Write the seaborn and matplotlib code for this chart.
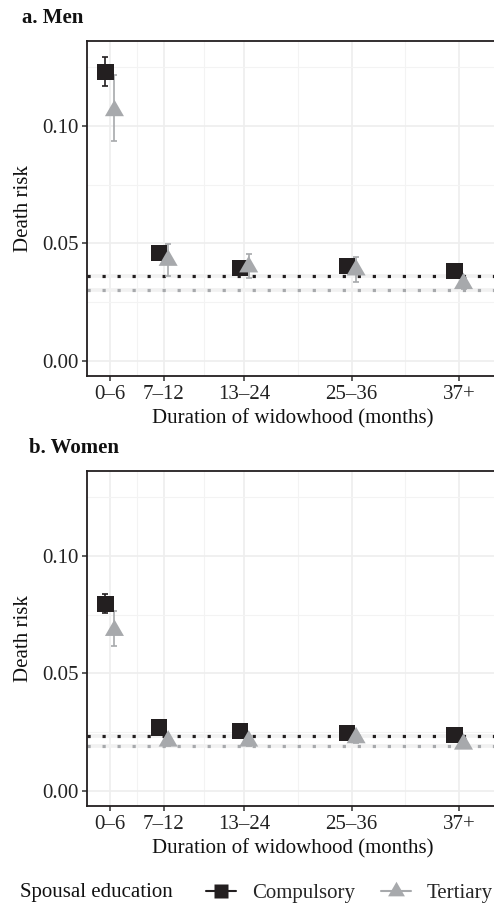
import matplotlib
matplotlib.use("Agg")
import matplotlib.pyplot as plt
import seaborn as sns
import pandas as pd
from matplotlib.lines import Line2D

# ---- data ----
durations = ["0–6", "7–12", "13–24", "25–36", "37+"]
duration_x = [0, 6, 15, 27, 39]          # continuous scale position of each duration band
groups = ["Compulsory", "Tertiary"]

men_comp = [0.1228, 0.0460, 0.0397, 0.0405, 0.0384]
men_comp_lo = [0.1170, 0.0446, 0.0384, 0.0392, 0.0371]
men_comp_hi = [0.1292, 0.0474, 0.0410, 0.0418, 0.0397]
men_tert = [0.1065, 0.0428, 0.0400, 0.0387, 0.0329]
men_tert_lo = [0.0935, 0.0363, 0.0354, 0.0334, 0.0306]
men_tert_hi = [0.1216, 0.0496, 0.0454, 0.0444, 0.0354]
men_ref = [0.0362, 0.0302]

women_comp = [0.0795, 0.0270, 0.0256, 0.0246, 0.0237]
women_comp_lo = [0.0757, 0.0258, 0.0245, 0.0235, 0.0226]
women_comp_hi = [0.0837, 0.0282, 0.0268, 0.0257, 0.0248]
women_tert = [0.0683, 0.0212, 0.0212, 0.0226, 0.0199]
women_tert_lo = [0.0616, 0.0192, 0.0192, 0.0206, 0.0181]
women_tert_hi = [0.0765, 0.0234, 0.0234, 0.0247, 0.0219]
women_ref = [0.0232, 0.0189]

# ---- style ----
BLACK = "#231f20"
GREY = "#a7a9ac"
colors = {"Compulsory": BLACK, "Tertiary": GREY}
tri = [(0, 1), (-0.866, -0.5), (0.866, -0.5)]   # triangle centred on its centroid (like R pch 17)
markers = {"Compulsory": "s", "Tertiary": tri}
sizes = {"Compulsory": 135, "Tertiary": 250}
dodge = {"Compulsory": -0.5, "Tertiary": 0.5}

sns.set_theme(style="white")
plt.rcParams['font.family'] = ['Liberation Serif', 'DejaVu Serif']
FS = 15


def make_df(comp, comp_lo, comp_hi, tert, tert_lo, tert_hi):
    rows = []
    for g, est, lo, hi in [("Compulsory", comp, comp_lo, comp_hi),
                           ("Tertiary", tert, tert_lo, tert_hi)]:
        for d, x, e, l, h in zip(durations, duration_x, est, lo, hi):
            rows.append({"duration": d, "x": x + dodge[g], "education": g,
                         "risk": e, "lo": l, "hi": h})
    return pd.DataFrame(rows)


def draw_panel(ax, df, ref):
    for g, r in zip(groups, ref):
        ax.axhline(r, color="#f1f1f1", lw=2.6, zorder=1.5)
        ax.axhline(r, color=colors[g], lw=2.3, ls=(0, (1, 3.7)),
                   dash_capstyle="butt", zorder=2)
    for g in groups:
        sub = df[df.education == g]
        ax.errorbar(sub.x, sub.risk, yerr=[sub.risk - sub.lo, sub.hi - sub.risk],
                    fmt="none", ecolor=colors[g], elinewidth=1.2, capsize=2.2,
                    capthick=1.2, zorder=3)
    sns.scatterplot(data=df, x="x", y="risk", hue="education", style="education",
                    size="education", sizes=sizes, markers=markers, palette=colors,
                    linewidth=0, legend=False, ax=ax, zorder=4)

    ax.set_xlim(-2.6, 43.6)
    ax.set_ylim(-0.0063, 0.1363)
    ax.set_xticks(duration_x, durations)
    ax.set_xticks([3, 10.5, 21, 33], minor=True)
    ax.set_yticks([0, 0.05, 0.10], ["0.00", "0.05", "0.10"])
    ax.set_yticks([0.025, 0.075, 0.125], minor=True)
    ax.grid(which="major", color="#eeeeee", lw=1.2)
    ax.grid(which="minor", color="#f3f3f3", lw=0.8)
    ax.set_axisbelow(True)
    ax.tick_params(which="major", length=3.5, width=1.1, color="#333333",
                   labelsize=FS, labelcolor="#222222", pad=2, bottom=True, left=True)
    ax.tick_params(axis="x", which="major", pad=3.5)
    ax.tick_params(which="minor", length=0)
    for s in ax.spines.values():
        s.set_color(BLACK)
        s.set_linewidth(1.3)
    ax.set_xlabel("Duration of widowhood (months)", fontsize=FS, color="#111111")
    ax.set_ylabel("Death risk", fontsize=FS, color="#111111")
    ax.xaxis.set_label_coords(0.4987, -0.128)
    ax.xaxis.label.set_va("center")
    ax.yaxis.set_label_coords(-0.152, 0.5)
    ax.yaxis.label.set_va("center")


fig = plt.figure(figsize=(4.94, 9.06), dpi=100)
W, H = 494, 906
left = 86.7 / W
width = 413.5 / W
ph = 335 / H
ax1 = fig.add_axes([left, 1 - 375.7 / H, width, ph])
ax2 = fig.add_axes([left, 1 - 805.7 / H, width, ph])

draw_panel(ax1, make_df(men_comp, men_comp_lo, men_comp_hi,
                        men_tert, men_tert_lo, men_tert_hi), men_ref)
draw_panel(ax2, make_df(women_comp, women_comp_lo, women_comp_hi,
                        women_tert, women_tert_lo, women_tert_hi), women_ref)

fig.text(22 / W, 1 - 18 / H, "a. Men", fontsize=FS, fontweight="bold",
         va="center", ha="left", color="#111111")
fig.text(29 / W, 1 - 448 / H, "b. Women", fontsize=FS, fontweight="bold",
         va="center", ha="left", color="#111111")

# legend at the bottom
fig.text(20 / W, 1 - 893 / H, "Spousal education", fontsize=FS, va="center",
         ha="left", color="#111111")
handles = [
    Line2D([], [], color=BLACK, lw=1.5, marker="s", ms=10, mec="none"),
    Line2D([], [], color=GREY, lw=1.5, marker=tri, ms=14, mec="none"),
]
fig.legend(handles, groups, loc="center left", bbox_to_anchor=(206 / W, 1 - 893 / H),
           ncol=2, frameon=False, fontsize=FS, handlelength=1.45,
           handletextpad=0.75, columnspacing=1.25, borderpad=0, borderaxespad=0)

fig.savefig("out.png", dpi=100)
